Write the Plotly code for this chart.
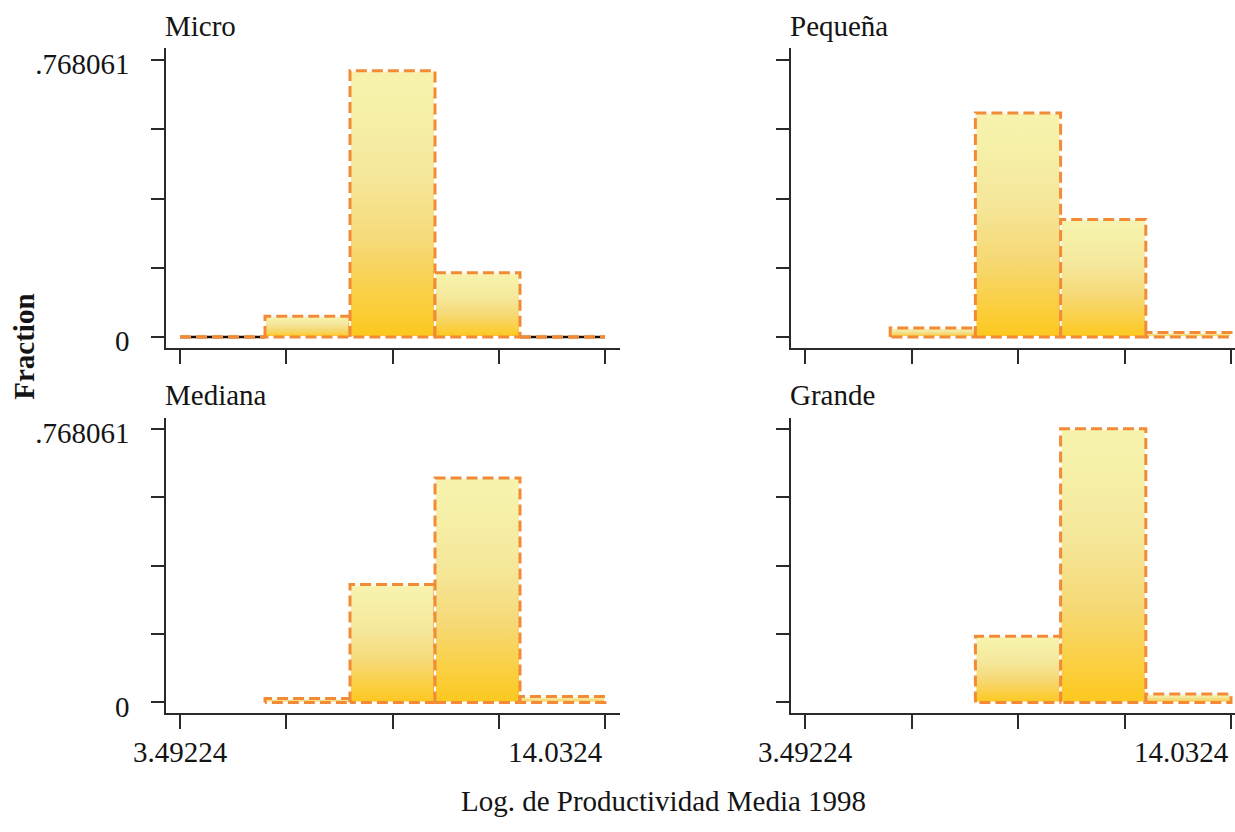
import plotly.graph_objects as go

# ---------------- data ----------------
x_min = 3.49224
x_max = 14.0324
n_bins = 5
y_max = 0.768061

panel_names = ["Micro", "Pequeña", "Mediana", "Grande"]
micro = [0.0, 0.0576, 0.739, 0.178, 0.0]
pequena = [None, 0.0247, 0.622, 0.326, 0.012]
mediana = [None, 0.011, 0.331, 0.630, 0.017]
grande = [None, None, 0.186, 0.768061, 0.024]
panel_values = [micro, pequena, mediana, grande]

x_tick_labels = ["3.49224", "14.0324"]
y_tick_labels = ["0", ".768061"]
x_title = "Log. de Productividad Media 1998"
y_title = "Fraction"

# ---------------- style / layout ----------------
W, H = 1235, 832
FONT = "Liberation Serif, Times New Roman, serif"
FS = 29
TXT = "#141414"
ORANGE = "#F28A36"
AXIS = "#2a2a2a"
GRAD = [[0.0, "#FCC81E"], [0.12, "#FBCE3C"], [0.35, "#F6D976"],
        [0.6, "#F5E79A"], [0.85, "#F6F0A8"], [1.0, "#F7F3AE"]]
DASH = "11px,5px"

# pixel geometry for each panel
geo = [
    dict(x0=166, x1=620, pa=180, pb=605, yt=48, yb=351, p0=340, pm=60),
    dict(x0=791, x1=1235, pa=805, pb=1231, yt=48, yb=351, p0=340, pm=60),
    dict(x0=166, x1=620, pa=180, pb=605, yt=422, yb=721, p0=710, pm=433),
    dict(x0=791, x1=1235, pa=805, pb=1231, yt=422, yb=721, p0=710, pm=433),
]

bw = (x_max - x_min) / n_bins
edges = [x_min + i * bw for i in range(n_bins + 1)]
x_ticks = [x_min + i * (x_max - x_min) / 4 for i in range(5)]
y_ticks = [i * y_max / 4 for i in range(5)]

fig = go.Figure()
layout = dict(width=W, height=H, margin=dict(l=0, r=0, t=0, b=0),
              plot_bgcolor="white", paper_bgcolor="white", showlegend=False,
              font=dict(family=FONT, size=FS, color=TXT))
annotations = []

for k, (name, vals, g) in enumerate(zip(panel_names, panel_values, geo)):
    xa = "x" if k == 0 else f"x{k+1}"
    ya = "y" if k == 0 else f"y{k+1}"
    xkey = "xaxis" if k == 0 else f"xaxis{k+1}"
    ykey = "yaxis" if k == 0 else f"yaxis{k+1}"

    xs_ = (g["pb"] - g["pa"]) / (x_max - x_min)
    xr = [x_min - (g["pa"] - g["x0"]) / xs_, x_max + (g["x1"] - g["pb"]) / xs_]
    ys_ = (g["p0"] - g["pm"]) / y_max
    yr = [0 - (g["yb"] - g["p0"]) / ys_, y_max + (g["pm"] - g["yt"]) / ys_]

    left = k in (0, 2)
    bottom = k in (2, 3)

    layout[xkey] = dict(domain=[g["x0"] / W, g["x1"] / W], range=xr, anchor=ya,
                        tickvals=x_ticks, ticktext=[""] * 5, ticks="outside",
                        ticklen=14, tickwidth=1.5, tickcolor=AXIS,
                        showline=True, linecolor=AXIS, linewidth=1.6,
                        showgrid=False, zeroline=False, fixedrange=True)
    layout[ykey] = dict(domain=[1 - g["yb"] / H, 1 - g["yt"] / H], range=yr, anchor=xa,
                        tickvals=y_ticks,
                        ticktext=[y_tick_labels[0], "", "", "", y_tick_labels[1]] if left else [""] * 5,
                        ticks="outside", ticklen=13, tickwidth=1.5, tickcolor=AXIS,
                        ticklabelstandoff=16, ticklabelshift=4,
                        showline=True, linecolor=AXIS, linewidth=1.6,
                        showgrid=False, zeroline=False, fixedrange=True,
                        tickfont=dict(family=FONT, size=FS, color=TXT))

    for i, v in enumerate(vals):
        if v is None:
            continue
        e0, e1 = edges[i], edges[i + 1]
        if v > 0:
            px = [e0, e0, e1, e1, e0]
            py = [0, v, v, 0, 0]
            fig.add_trace(go.Scatter(x=px, y=py, xaxis=xa, yaxis=ya, mode="lines",
                                     fill="toself",
                                     fillgradient=dict(type="vertical", colorscale=GRAD),
                                     line=dict(color="white", width=2),
                                     hoverinfo="skip"))
            fig.add_trace(go.Scatter(x=px, y=py, xaxis=xa, yaxis=ya, mode="lines",
                                     line=dict(color=ORANGE, width=3, dash=DASH),
                                     hoverinfo="skip"))
        else:
            fig.add_trace(go.Scatter(x=[e0, e1], y=[0, 0], xaxis=xa, yaxis=ya, mode="lines",
                                     line=dict(color="#111111", width=2.5), hoverinfo="skip"))
            fig.add_trace(go.Scatter(x=[e0, e1], y=[0, 0], xaxis=xa, yaxis=ya, mode="lines",
                                     line=dict(color=ORANGE, width=3.5, dash=DASH),
                                     hoverinfo="skip"))

    # panel title
    annotations.append(dict(text=name, xref="paper", yref="paper",
                            x=(g["x0"] - 3) / W, y=1 - (g["yt"] - 23) / H,
                            xanchor="left", yanchor="middle", showarrow=False,
                            font=dict(family=FONT, size=FS, color=TXT)))
    # x tick labels on bottom row
    if bottom:
        annotations.append(dict(text=x_tick_labels[0], xref=xa, yref="paper",
                                x=x_min, y=1 - 742 / H, xanchor="center", yanchor="top",
                                showarrow=False, font=dict(family=FONT, size=FS, color=TXT)))
        annotations.append(dict(text=x_tick_labels[1], xref=xa, yref="paper",
                                x=x_max, y=1 - 742 / H, xanchor="right", yanchor="top",
                                showarrow=False, font=dict(family=FONT, size=FS, color=TXT)))

annotations.append(dict(text=x_title, xref="paper", yref="paper", x=663 / W, y=1 - 810 / H,
                        xanchor="center", yanchor="middle", showarrow=False,
                        font=dict(family=FONT, size=FS, color=TXT)))
annotations.append(dict(text="<b>" + y_title + "</b>", xref="paper", yref="paper",
                        x=24 / W, y=1 - 350 / H, textangle=-90,
                        xanchor="center", yanchor="middle", showarrow=False,
                        font=dict(family=FONT, size=FS, color=TXT)))

layout["annotations"] = annotations
fig.update_layout(**layout)
fig.write_html("out.html")
